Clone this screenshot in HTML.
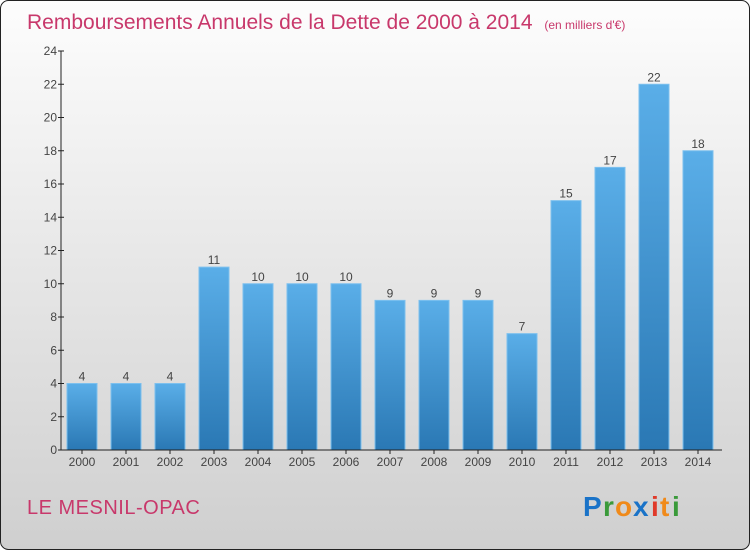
<!DOCTYPE html>
<html><head><meta charset="utf-8"><style>
body{margin:0;width:750px;height:550px;overflow:hidden;font-family:"Liberation Sans",sans-serif}
</style></head><body>
<svg width="750" height="550" xmlns="http://www.w3.org/2000/svg">
<defs>
<linearGradient id="bg" x1="0" y1="0" x2="0" y2="1"><stop offset="0" stop-color="#fdfdfd"/><stop offset="1" stop-color="#cfcfcf"/></linearGradient>
<linearGradient id="bar" x1="0" y1="0" x2="0" y2="1"><stop offset="0" stop-color="#5aaee8"/><stop offset="1" stop-color="#2a78b4"/></linearGradient>
</defs>
<rect x="0.5" y="0.5" width="749" height="549" rx="8" fill="url(#bg)" stroke="#222"/>
<text x="27" y="29" font-size="21" fill="#c8386b">Remboursements Annuels de la Dette de 2000 à 2014 <tspan font-size="12" dx="6">(en milliers d'€)</tspan></text>
<g id="plot"></g>
<text x="27" y="514" font-size="20" fill="#c8386b" letter-spacing="0.5">LE MESNIL-OPAC</text>
<g font-size="28" font-weight="bold">
<text x="583" y="516" fill="#1a73c8">P</text><text x="603" y="516" fill="#3a9a3a">r</text><text x="615" y="516" fill="#f08a1a">o</text><text x="633" y="516" fill="#1a73c8">x</text><text x="651" y="516" fill="#e03a2a">i</text><text x="660" y="516" fill="#f08a1a">t</text><text x="672" y="516" fill="#3a9a3a">i</text>
</g>
</svg>
<script>
const years=["2000","2001","2002","2003","2004","2005","2006","2007","2008","2009","2010","2011","2012","2013","2014"];
const values=[4,4,4,11,10,10,10,9,9,9,7,15,17,22,18];
const yTicks=[0,2,4,6,8,10,12,14,16,18,20,22,24];
const NS="http://www.w3.org/2000/svg";
const g=document.getElementById('plot');
const y0=450,yTop=51,yMax=24,x0=61,step=44,first=82,bw=30;
const yS=v=>y0-(v/yMax)*(y0-yTop);
const xS=i=>first+i*step;
function mk(t,a,txt){const e=document.createElementNS(NS,t);for(const k in a)e.setAttribute(k,a[k]);if(txt!=null)e.textContent=txt;g.appendChild(e);return e;}
yTicks.forEach(t=>{
 const l=mk('line',{x1:x0-3,x2:x0+3,y1:yS(t),y2:yS(t),stroke:'#222'});
 
 
 const tx=mk('text',{x:x0-4,y:yS(t)+4,'font-size':12,fill:'#444','text-anchor':'end'},t);
 
 
});
values.forEach((v,i)=>{
 const r=mk('rect',{x:xS(i)-bw/2,y:yS(v),width:bw,height:y0-yS(v),fill:'url(#bar)',stroke:'#7cc0ee','stroke-width':1});
 
 
 const lb=mk('text',{x:xS(i),y:yS(v)-3,'font-size':12,fill:'#444','text-anchor':'middle'},v);
 
 
 const yl=mk('text',{x:xS(i),y:y0+16,'font-size':12,fill:'#444','text-anchor':'middle'},years[i]);
 
 
 const tk=mk('line',{x1:xS(i),x2:xS(i),y1:y0,y2:y0+4,stroke:'#222'});
 
 
});
const ya=mk('line',{x1:x0,x2:x0,y1:yTop,y2:y0,stroke:'#222'});


const xa=mk('line',{x1:x0,x2:722,y1:y0,y2:y0,stroke:'#222'});


</script>
</body></html>
